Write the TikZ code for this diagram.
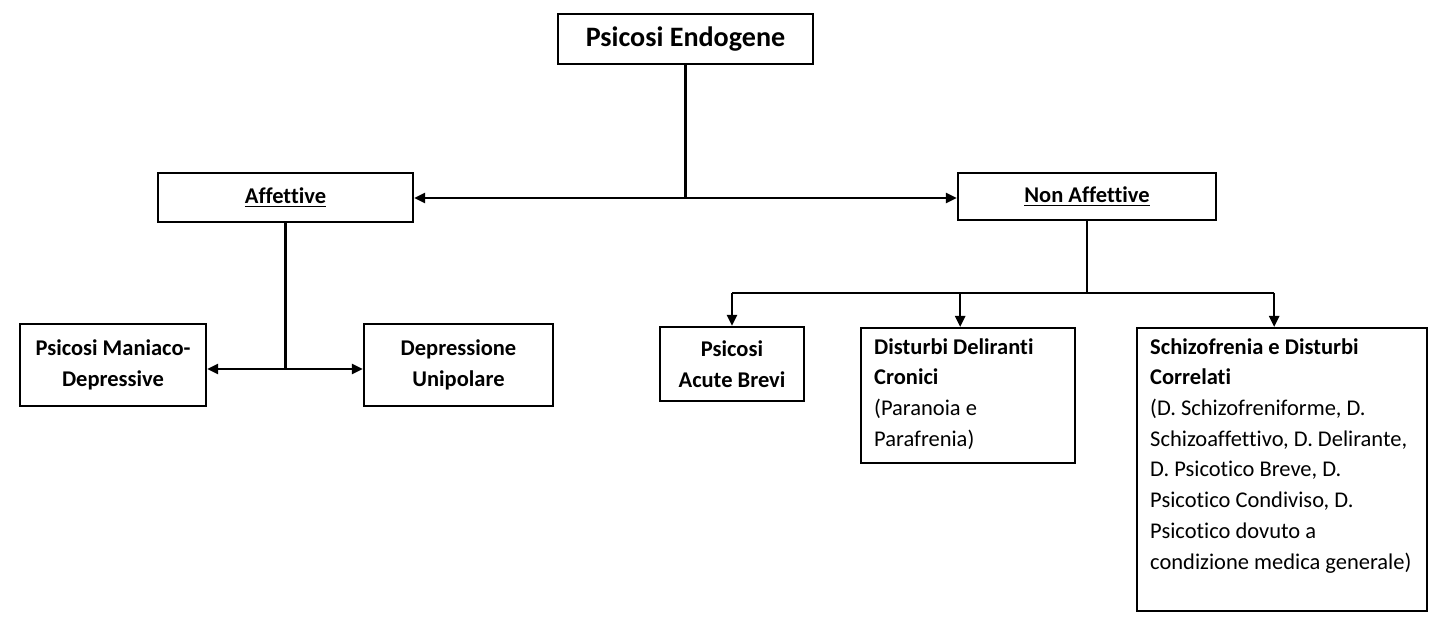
\documentclass[tikz,border=0pt]{standalone}
\usepackage{fontspec}
\setmainfont{Carlito}[Ligatures=NoCommon]
\usepackage{tikz}
\usetikzlibrary{arrows.meta,calc,positioning}

\begin{document}
\begin{tikzpicture}[x=0.02cm,y=-0.02cm,
  box/.style={draw,line width=1.4pt,inner sep=0pt,align=center,font=\fontsize{12.8}{17.5}\selectfont\bfseries},
  link/.style={line width=1.4pt},
  arr/.style={line width=1.4pt,-{Triangle[length=0.22cm,width=0.2cm]}}]
\useasboundingbox (0,0) rectangle (1445,634);
% main box
\node[box,minimum width=5.1cm,minimum height=1cm,font=\fontsize{16}{19}\selectfont\bfseries] (endo) at (685.5,39) {Psicosi Endogene};
% second level
\node[box,minimum width=5.1cm,minimum height=0.98cm] (aff) at (285.5,197.5) {\underline{Affettive}};
\node[box,minimum width=5.16cm,minimum height=0.94cm] (naff) at (1087,196.5) {\underline{Non Affettive}};
% affective branch
\node[box,minimum width=3.72cm,minimum height=1.64cm] (mdep) at (113,365) {Psicosi Maniaco-\\Depressive};
\node[box,minimum width=3.78cm,minimum height=1.64cm] (unip) at (458.5,365) {Depressione\\Unipolare};
% non affective branch
\node[box,minimum width=2.88cm,minimum height=1.48cm] (acute) at (732,364) {Psicosi\\Acute Brevi};
\node[box,align=left,anchor=north west] (delir) at (860,327)
  {\parbox[c][2.7cm][t]{4.28cm}{\vspace{0.2cm}\hspace*{0.26cm}\parbox[t]{3.95cm}{\fontsize{12.8}{17.5}\selectfont Disturbi Deliranti\\Cronici\\\mdseries(Paranoia e\\Parafrenia)}}};
\node[box,align=left,anchor=north west] (schizo) at (1136,327)
  {\parbox[c][5.66cm][t]{5.8cm}{\vspace{0.2cm}\hspace*{0.26cm}\parbox[t]{5.45cm}{\fontsize{12.8}{17.5}\selectfont Schizofrenia e Disturbi\\Correlati\\\mdseries(D. Schizofreniforme, D.\\Schizoaffettivo, D. Delirante,\\D. Psicotico Breve, D.\\Psicotico Condiviso, D.\\Psicotico dovuto a\\condizione medica generale)}}};
% connectors
\coordinate (j1) at (endo.south |- 0,198);
\draw[link] (endo.south) -- (j1);
\draw[arr] (j1) -- (aff.east |- j1);
\draw[arr] (j1) -- (naff.west |- j1);
\coordinate (j2) at (aff.south |- 0,369);
\draw[link] (aff.south) -- (j2);
\draw[arr] (j2) -- (mdep.east |- j2);
\draw[arr] (j2) -- (unip.west |- j2);
\coordinate (j3) at (naff.south |- 0,293);
\coordinate (d1) at (acute.north);
\coordinate (d2) at ($(delir.north)+(-8,0)$);
\coordinate (d3) at ($(schizo.north)+(-8,0)$);
\draw[link] (naff.south) -- (j3);
\draw[link] (d1 |- j3) -- (d3 |- j3);
\draw[arr] (d1 |- j3) -- (d1);
\draw[arr] (d2 |- j3) -- (d2);
\draw[arr] (d3 |- j3) -- (d3);
\end{tikzpicture}
\end{document}
